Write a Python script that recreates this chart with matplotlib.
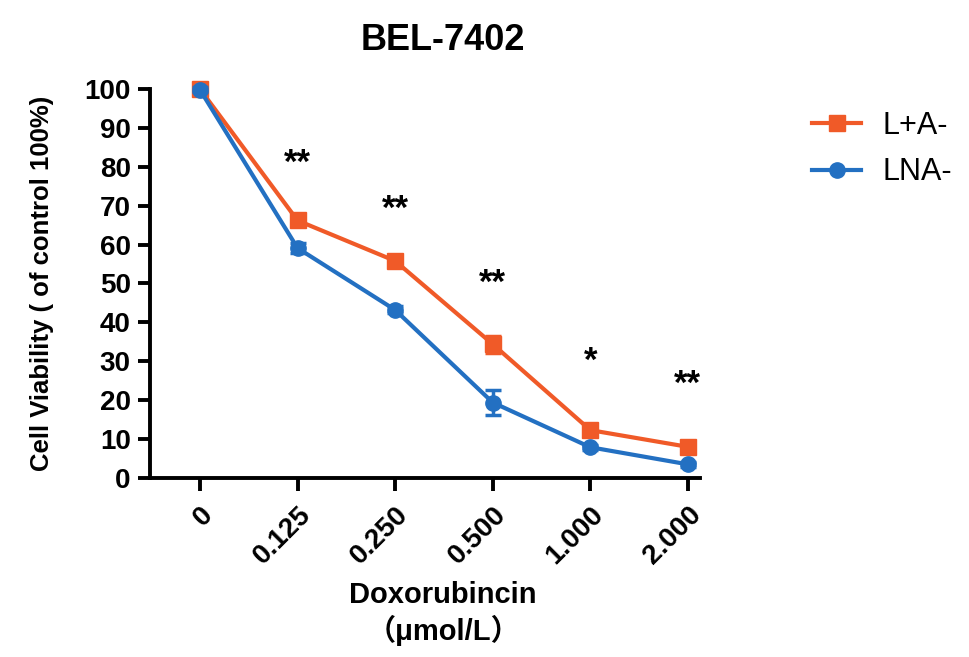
import matplotlib
matplotlib.use("Agg")
import matplotlib.pyplot as plt
from matplotlib.lines import Line2D
import numpy as np

# doses and mean viability (% of control) with SEM
doses = ["0", "0.125", "0.250", "0.500", "1.000", "2.000"]
la_mean = [100.0, 66.2, 55.8, 34.4, 12.3, 8.0]
la_err = [0.8, 1.2, 1.2, 2.2, 1.5, 1.2]
lna_mean = [99.8, 59.1, 43.2, 19.4, 7.9, 3.5]
lna_err = [0.6, 1.2, 0.9, 3.1, 0.6, 0.6]
sig_marks = ["", "**", "**", "**", "*", "**"]
sig_y = [0, 81, 69, 50, 30, 24]

C_ORANGE = "#F05A28"
C_BLUE = "#2370C2"

plt.rcParams.update({
    "font.family": ["Liberation Sans", "DejaVu Sans"],
    "font.weight": "bold",
    "axes.linewidth": 2.8,
})

fig = plt.figure(figsize=(9.69, 6.57), dpi=100)
ax = fig.add_axes([0.155, 0.2725, 0.567, 0.592])

x = np.arange(len(doses))
ax.errorbar(x, la_mean, yerr=la_err, color=C_ORANGE, marker="s", markersize=11,
            linewidth=3, elinewidth=2.5, capsize=6, capthick=2.5,
            clip_on=False, zorder=3)
ax.errorbar(x, lna_mean, yerr=lna_err, color=C_BLUE, marker="o", markersize=11,
            linewidth=3, elinewidth=2.5, capsize=6, capthick=2.5,
            clip_on=False, zorder=4)

for xi, s, yy in zip(x, sig_marks, sig_y):
    if s:
        ax.text(xi, yy, s, ha="center", va="center", fontsize=25,
                fontweight="bold", color="black")

ax.set_xlim(-0.51, 5.12)
ax.set_ylim(0, 100)
ax.set_yticks(np.arange(0, 101, 10))
ax.set_xticks(x)
ax.set_xticklabels(doses, rotation=45, ha="right", rotation_mode="anchor")
ax.tick_params(axis="both", direction="out", length=9, width=2.8, labelsize=20)
ax.tick_params(axis="x", pad=8)
ax.tick_params(axis="y", pad=5)

for sp in ["top", "right"]:
    ax.spines[sp].set_visible(False)

ax.set_title("BEL-7402", fontsize=26, fontweight="bold", pad=28, x=0.533)
ax.set_ylabel("Cell Viability ( of control 100%)", fontsize=18.5, fontweight="bold", labelpad=22)
ax.set_xlabel("Doxorubincin\n\uff08\u03bcmol/L\uff09", fontsize=21, fontweight="bold",
              linespacing=1.25)
ax.xaxis.label.set_family(["Liberation Sans", "Noto Sans CJK SC", "DejaVu Sans"])
ax.xaxis.set_label_coords(0.533, -0.265, transform=ax.transAxes)
ax.xaxis.label.set_va("top")

handles = [
    Line2D([], [], color=C_ORANGE, marker="s", markersize=11, linewidth=3),
    Line2D([], [], color=C_BLUE, marker="o", markersize=11, linewidth=3),
]
leg = ax.legend(handles, ["L+A-", "LNA-"], loc="upper left", bbox_to_anchor=(1.155, 1.015),
                frameon=False, fontsize=22, handlelength=1.6, labelspacing=0.55,
                handletextpad=0.7)
for t in leg.get_texts():
    t.set_fontweight("normal")

fig.savefig("out.png", dpi=100)
